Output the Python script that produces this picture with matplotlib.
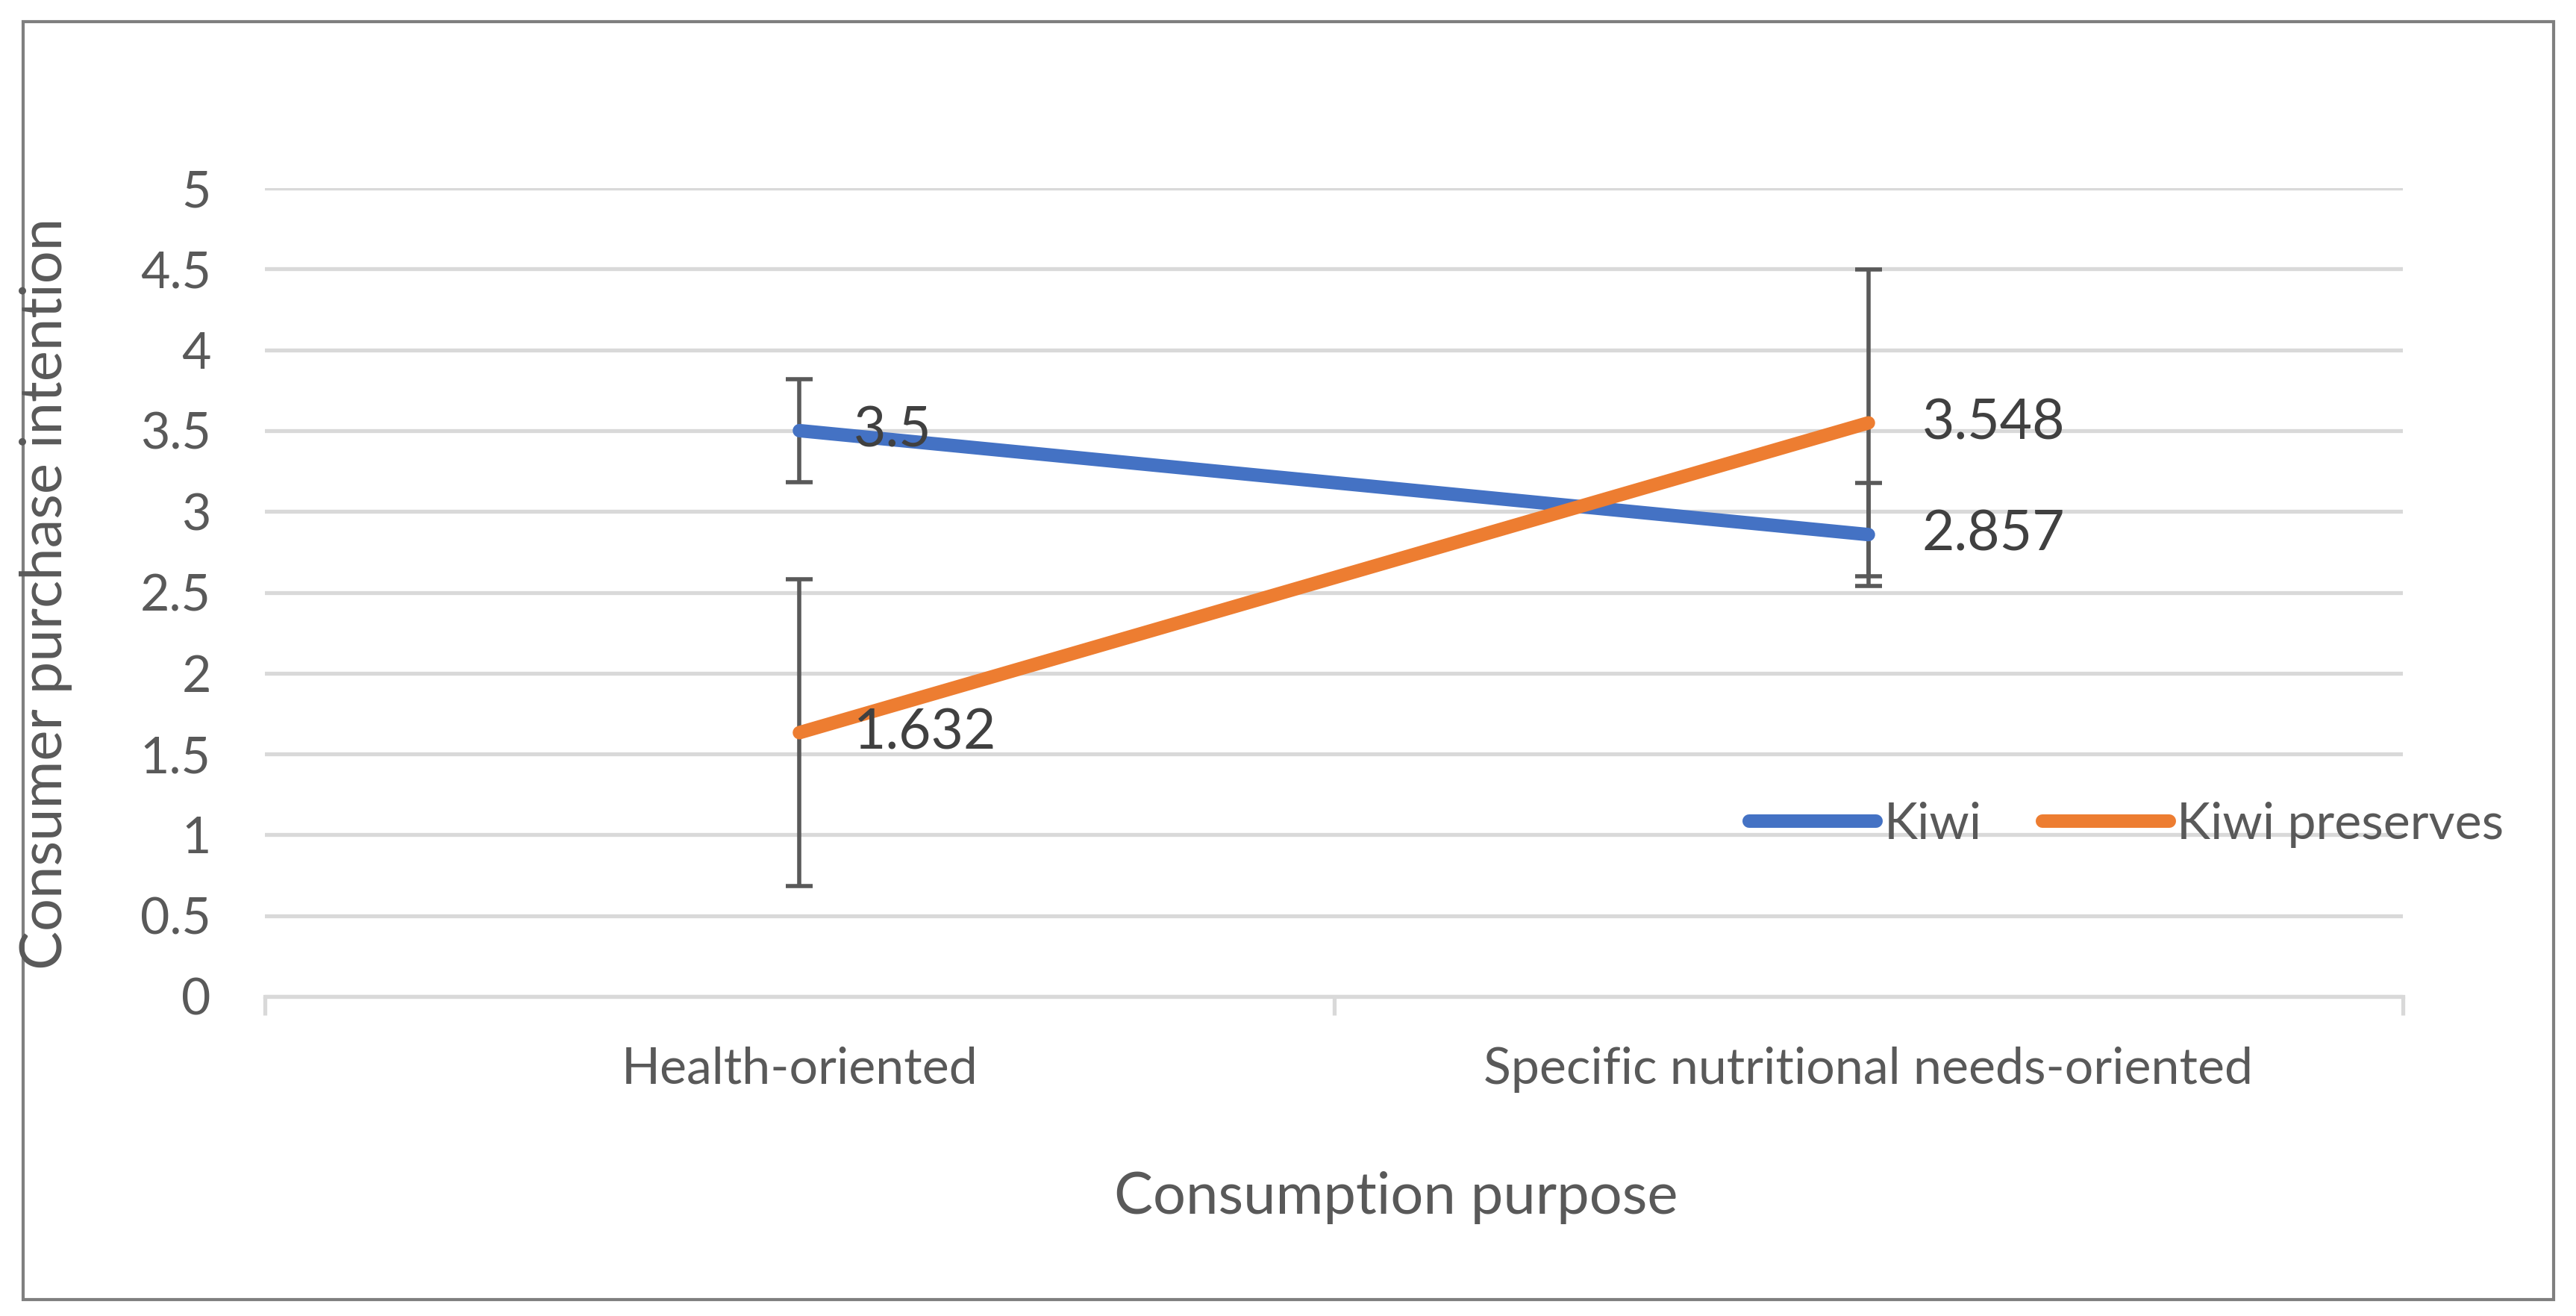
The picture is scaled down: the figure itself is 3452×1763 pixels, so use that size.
import matplotlib
matplotlib.use('Agg')
import matplotlib.pyplot as plt
from matplotlib.patches import Rectangle

# data
categories = ['Health-oriented', 'Specific nutritional needs-oriented']
kiwi = [3.5, 2.857]
kiwi_err = [0.32, 0.32]
preserves = [1.632, 3.548]
preserves_err = [0.95, 0.95]
kiwi_labels = ['3.5', '2.857']
preserves_labels = ['1.632', '3.548']
yticks = [0, 0.5, 1, 1.5, 2, 2.5, 3, 3.5, 4, 4.5, 5]
ytick_labels = ['0', '0.5', '1', '1.5', '2', '2.5', '3', '3.5', '4', '4.5', '5']

BLUE = '#4472C4'
ORANGE = '#ED7D31'
TEXT = '#595959'
GRID = '#D9D9D9'

plt.rcParams['font.family'] = ['Lato', 'DejaVu Sans']

W, H = 3452, 1763
fig = plt.figure(figsize=(W / 100, H / 100), dpi=100)
ax = fig.add_axes([355 / W, 1 - 1335 / H, (3220 - 355) / W, (1335 - 252) / H])

x = [0.5, 1.5]

# error bars first so the lines sit on top
ax.errorbar(x, kiwi, yerr=kiwi_err, fmt='none', ecolor=TEXT, elinewidth=4,
            capsize=13, capthick=4, zorder=2)
ax.errorbar(x, preserves, yerr=preserves_err, fmt='none', ecolor=TEXT, elinewidth=4,
            capsize=13, capthick=4, zorder=2)

ax.plot(x, kiwi, color=BLUE, lw=13, solid_capstyle='round', label='Kiwi', zorder=3)
ax.plot(x, preserves, color=ORANGE, lw=13, solid_capstyle='round', label='Kiwi preserves', zorder=3)

for xi, yi, s in zip(x, kiwi, kiwi_labels):
    ax.annotate(s, (xi, yi), xytext=(52, 0), textcoords='offset points',
                ha='left', va='center', fontsize=54, color='#404040', zorder=4)
for xi, yi, s in zip(x, preserves, preserves_labels):
    ax.annotate(s, (xi, yi), xytext=(52, 0), textcoords='offset points',
                ha='left', va='center', fontsize=54, color='#404040', zorder=4)

ax.set_xlim(0, 2)
ax.set_ylim(0, 5)
ax.set_yticks(yticks)
ax.set_yticklabels(ytick_labels)
ax.yaxis.grid(True, color=GRID, lw=3.8)
ax.set_axisbelow(True)
ax.tick_params(axis='y', length=0, pad=52, labelsize=49, labelcolor=TEXT)

ax.set_xticks([0, 1, 2], minor=False)
ax.set_xticklabels([])
ax.set_xticks(x, minor=True)
ax.set_xticklabels(categories, minor=True)
ax.tick_params(axis='x', which='major', length=18, width=3.8, color=GRID, direction='out')
ax.tick_params(axis='x', which='minor', length=0, pad=48, labelsize=49, labelcolor=TEXT)

for side in ['top', 'right', 'left']:
    ax.spines[side].set_visible(False)
ax.spines['bottom'].set_color(GRID)
ax.spines['bottom'].set_linewidth(3.8)

fig.text(62 / W, 1 - 795 / H, 'Consumer purchase intention', rotation=90,
         ha='center', va='center', fontsize=56, color=TEXT)
fig.text(1871 / W, 1 - 1605 / H, 'Consumption purpose',
         ha='center', va='center', fontsize=56, color=TEXT)

leg = fig.legend(loc='center left', bbox_to_anchor=(2344 / W, 1 - 1105 / H),
                 ncol=2, frameon=False, fontsize=49, handlelength=2.5,
                 handletextpad=0.15, columnspacing=1.2, borderpad=0, borderaxespad=0)
for t in leg.get_texts():
    t.set_color(TEXT)

fig.add_artist(Rectangle((31 / W, 1 - 1741 / H), (3422 - 31) / W, (1741 - 29) / H,
                         transform=fig.transFigure, fill=False, edgecolor='#7F7F7F', lw=3))

fig.savefig('out.png', dpi=100)
